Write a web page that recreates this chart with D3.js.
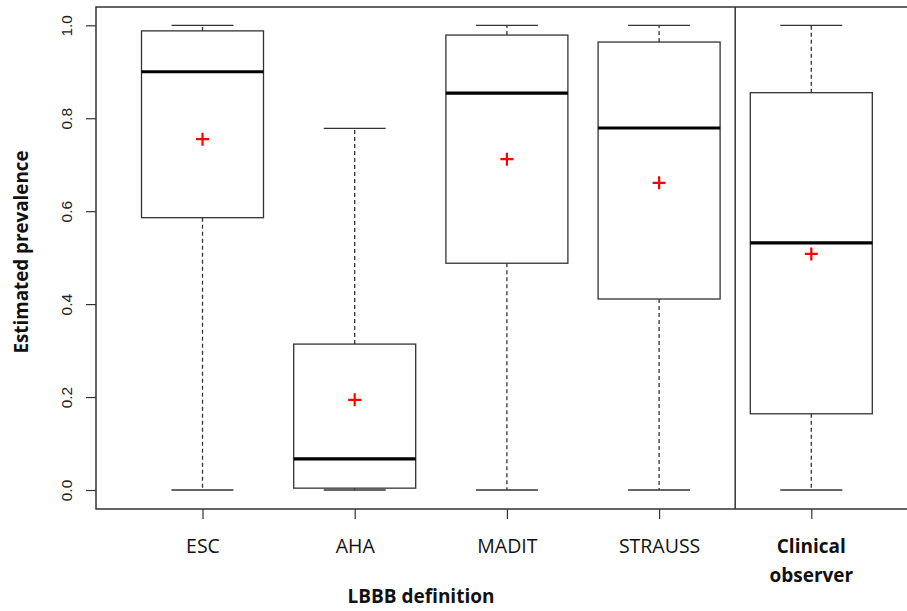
<!DOCTYPE html>
<html>
<head>
<meta charset="utf-8">
<script src="https://cdn.jsdelivr.net/npm/d3@7"></script>
<style>
  body { margin: 0; background: #fff; }
  svg { display: block; }
</style>
</head>
<body>
<div id="chart"></div>
<script>
var categories = ["ESC", "AHA", "MADIT", "STRAUSS", "Clinical observer"];
var whiskerLow = [0, 0, 0, 0, 0];
var q1 = [0.586, 0.004, 0.488, 0.411, 0.164];
var median = [0.900, 0.067, 0.854, 0.779, 0.532];
var q3 = [0.988, 0.314, 0.979, 0.964, 0.855];
var whiskerHigh = [1, 0.778, 1, 1, 1];
var mean = [0.755, 0.194, 0.712, 0.661, 0.508];
var yTicks = [0, 0.2, 0.4, 0.6, 0.8, 1.0];

var svgWidth = 907;
var svgHeight = 611;

// plot frame (right edge runs off the picture)
var frame = { left: 96, top: 7, right: 912, bottom: 509 };

var svg = d3.select("#chart")
  .append("svg")
  .attr("width", svgWidth)
  .attr("height", svgHeight);

var rows = categories.map(function(c, i) {
  return {
    name: c,
    lo: whiskerLow[i], q1: q1[i], med: median[i],
    q3: q3[i], hi: whiskerHigh[i], mean: mean[i]
  };
});

var x = d3.scalePoint().domain(categories).range([202.5, 811.3]);
var y = d3.scaleLinear().domain([0, 1]).range([490, 25.3]);

var boxHalf = 61;
var capHalf = 31;
var lineColor = "#333";

// frame
svg.append("rect")
  .attr("x", frame.left)
  .attr("y", frame.top)
  .attr("width", frame.right - frame.left)
  .attr("height", frame.bottom - frame.top)
  .attr("fill", "none")
  .attr("stroke", lineColor)
  .attr("stroke-width", 1.5);

// separator between the definitions and the clinical observer
var sepX = (x("STRAUSS") + x("Clinical observer")) / 2;
svg.append("line")
  .attr("x1", sepX).attr("x2", sepX)
  .attr("y1", frame.top).attr("y2", frame.bottom)
  .attr("stroke", lineColor)
  .attr("stroke-width", 1.5);

// y axis
var leftAxis = d3.axisLeft(y).tickValues(yTicks).tickSize(10).tickFormat(d3.format(".1f"));
var gy = svg.append("g")
  .attr("transform", "translate(" + frame.left + ",0)")
  .call(leftAxis);
gy.select(".domain").remove();
gy.selectAll(".tick line").attr("stroke", lineColor).attr("stroke-width", 1.2);
gy.selectAll(".tick text")
  .attr("x", null).attr("dy", null)
  .attr("transform", "translate(-24,0) rotate(-90)")
  .attr("text-anchor", "middle")
  .attr("font-family", "Liberation Sans, Arial, sans-serif")
  .attr("font-size", 15.5)
  .attr("fill", "#222");

// x axis
var bottomAxis = d3.axisBottom(x).tickSize(10).tickPadding(0);
var gx = svg.append("g")
  .attr("transform", "translate(0," + frame.bottom + ")")
  .call(bottomAxis);
gx.select(".domain").remove();
gx.selectAll(".tick line").attr("stroke", lineColor).attr("stroke-width", 1.2);
gx.selectAll(".tick text")
  .attr("y", 44).attr("dy", null)
  .attr("font-family", "Open Sans, sans-serif")
  .attr("font-size", 19.5)
  .attr("fill", "#111")
  .text(function(d) { return d === "Clinical observer" ? "" : d; });

// clinical observer label in bold, two lines
var clin = svg.append("text")
  .attr("x", x("Clinical observer"))
  .attr("y", frame.bottom + 44)
  .attr("text-anchor", "middle")
  .attr("font-family", "Open Sans, sans-serif")
  .attr("font-size", 19)
  .attr("font-weight", "bold")
  .attr("fill", "#111");
clin.append("tspan").attr("x", x("Clinical observer")).text("Clinical");
clin.append("tspan").attr("x", x("Clinical observer")).attr("dy", 29).text("observer");

// axis titles
svg.append("text")
  .attr("x", 421)
  .attr("y", 603)
  .attr("text-anchor", "middle")
  .attr("font-family", "Open Sans, sans-serif")
  .attr("font-size", 19)
  .attr("font-weight", "bold")
  .attr("fill", "#111")
  .text("LBBB definition");

svg.append("text")
  .attr("transform", "translate(28,252) rotate(-90)")
  .attr("text-anchor", "middle")
  .attr("font-family", "Open Sans, sans-serif")
  .attr("font-size", 18.8)
  .attr("font-weight", "bold")
  .attr("fill", "#111")
  .text("Estimated prevalence");

// boxes
var boxes = svg.selectAll(".box")
  .data(rows)
  .enter()
  .append("g")
  .attr("class", "box");

// whiskers (dashed)
boxes.append("line")
  .attr("x1", d => x(d.name)).attr("x2", d => x(d.name))
  .attr("y1", d => y(d.q3)).attr("y2", d => y(d.hi))
  .attr("stroke", lineColor).attr("stroke-width", 1.3)
  .attr("stroke-dasharray", "4,3");
boxes.append("line")
  .attr("x1", d => x(d.name)).attr("x2", d => x(d.name))
  .attr("y1", d => y(d.q1)).attr("y2", d => y(d.lo))
  .attr("stroke", lineColor).attr("stroke-width", 1.3)
  .attr("stroke-dasharray", "4,3");

// whisker caps
boxes.append("line")
  .attr("x1", d => x(d.name) - capHalf).attr("x2", d => x(d.name) + capHalf)
  .attr("y1", d => y(d.hi)).attr("y2", d => y(d.hi))
  .attr("stroke", lineColor).attr("stroke-width", 1.3);
boxes.append("line")
  .attr("x1", d => x(d.name) - capHalf).attr("x2", d => x(d.name) + capHalf)
  .attr("y1", d => y(d.lo)).attr("y2", d => y(d.lo))
  .attr("stroke", lineColor).attr("stroke-width", 1.3);

// box body
boxes.append("rect")
  .attr("x", d => x(d.name) - boxHalf)
  .attr("y", d => y(d.q3))
  .attr("width", boxHalf * 2)
  .attr("height", d => y(d.q1) - y(d.q3))
  .attr("fill", "#fff")
  .attr("stroke", lineColor)
  .attr("stroke-width", 1.3);

// median
boxes.append("line")
  .attr("x1", d => x(d.name) - boxHalf).attr("x2", d => x(d.name) + boxHalf)
  .attr("y1", d => y(d.med)).attr("y2", d => y(d.med))
  .attr("stroke", "#000").attr("stroke-width", 3.2);

// mean marker
boxes.append("path")
  .attr("d", function(d) {
    var cx = x(d.name), cy = y(d.mean), s = 6.5;
    return "M" + (cx - s) + "," + cy + "H" + (cx + s) + "M" + cx + "," + (cy - s) + "V" + (cy + s);
  })
  .attr("stroke", "#f00")
  .attr("stroke-width", 2.2)
  .attr("fill", "none");
</script>
</body>
</html>
